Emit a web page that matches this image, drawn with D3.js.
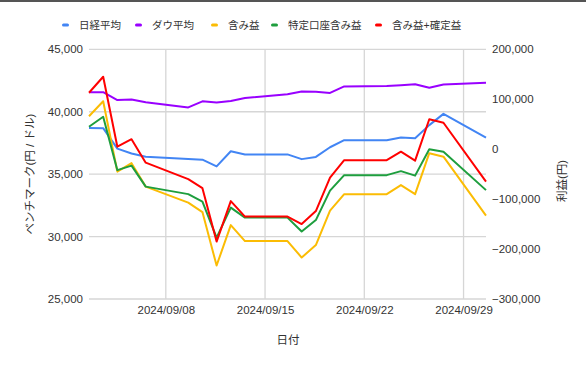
<!DOCTYPE html>
<html>
<head>
<meta charset="utf-8">
<title>ベンチマークと利益</title>
<script src="https://cdn.jsdelivr.net/npm/d3@7"></script>
<style>
  body { margin: 0; background: #fff; }
  svg text { font-family: "Liberation Sans", Arial, "Noto Sans CJK JP", sans-serif; fill: #333; }
</style>
</head>
<body>
<div id="chart"></div>
<script>

// 取得日時(平日 + 祝日)
var dates = ["2024-09-02", "2024-09-03", "2024-09-04", "2024-09-05", "2024-09-06",
             "2024-09-09", "2024-09-10", "2024-09-11", "2024-09-12", "2024-09-13",
             "2024-09-16", "2024-09-17", "2024-09-18", "2024-09-19", "2024-09-20",
             "2024-09-23", "2024-09-24", "2024-09-25", "2024-09-26", "2024-09-27",
             "2024-09-30"];

// 左軸
var nikkei = [38700, 38686, 37047, 36657, 36391, 36215, 36159, 35619, 36833, 36581,
              36581, 36203, 36380, 37155, 37723, 37723, 37940, 37870, 38926, 39830, 37919];
var dow = [41563, 41563, 40936, 40975, 40755, 40345, 40830, 40737, 40861, 41097,
           41394, 41622, 41606, 41504, 42025, 42063, 42124, 42208, 41915, 42175, 42313];

// 右軸
var unrealized = [66000, 96000, -45000, -28000, -75000, -107000, -126000, -233000, -152000, -184000,
                  -184000, -217000, -192000, -123000, -90000, -90000, -72000, -90000, -8000, -15000, -133000];
var tokutei = [45000, 65000, -42000, -33000, -75000, -90000, -105000, -177000, -117000, -137000,
               -137000, -165000, -142000, -83000, -52000, -52000, -44000, -53000, 0, -5000, -82000];
var totalProfit = [113000, 145000, 5000, 20000, -27000, -60000, -78000, -185000, -104000, -135000,
                   -135000, -150000, -124000, -57000, -22000, -22000, -5000, -23000, 60000, 53000, -65000];

var leftTicks = [25000, 30000, 35000, 40000, 45000];
var rightTicks = [-300000, -200000, -100000, 0, 100000, 200000];

var series = [
    { name: "日経平均", values: nikkei, axis: "left", color: "#4285f4" },
    { name: "ダウ平均", values: dow, axis: "left", color: "#9900ff" },
    { name: "含み益", values: unrealized, axis: "right", color: "#fbbc04" },
    { name: "特定口座含み益", values: tokutei, axis: "right", color: "#1e9e3e" },
    { name: "含み益+確定益", values: totalProfit, axis: "right", color: "#ff0000" }
];

var width = 586, height = 367;
var plotLeft = 89, plotRight = 486, plotTop = 49.3, plotBottom = 299;

var parseTime = d3.timeParse("%Y-%m-%d %H:%M");
var times = dates.map(function(d) { return parseTime(d + " 14:00"); });

var svg = d3.select("#chart").append("svg")
    .attr("width", width)
    .attr("height", height);

svg.append("rect").attr("width", width).attr("height", height).attr("fill", "#fff");
// 上端の枠
svg.append("rect").attr("x", 0).attr("y", 0).attr("width", width).attr("height", 2).attr("fill", "#555");

var x = d3.scaleTime().domain(d3.extent(times)).range([plotLeft, plotRight]);
var yLeft = d3.scaleLinear().domain([25000, 45000]).range([plotBottom, plotTop]);
var yRight = d3.scaleLinear().domain([-300000, 200000]).range([plotBottom, plotTop]);

// グリッド
var grid = svg.append("g").attr("stroke", "#d6d6d6").attr("stroke-width", 1.3);
grid.selectAll(".h").data(leftTicks).enter().append("line")
    .attr("x1", plotLeft).attr("x2", plotRight)
    .attr("y1", function(d) { return yLeft(d); })
    .attr("y2", function(d) { return yLeft(d); });
var xTicks = d3.timeWeek.range(x.domain()[0], x.domain()[1]);
grid.selectAll(".v").data(xTicks).enter().append("line")
    .attr("y1", plotTop).attr("y2", plotBottom)
    .attr("x1", function(d) { return x(d); })
    .attr("x2", function(d) { return x(d); });

// 軸
var fmt = d3.format(",");
var axisLeft = svg.append("g").attr("transform", "translate(" + (plotLeft - 6) + ",0)")
    .call(d3.axisLeft(yLeft).tickValues(leftTicks).tickFormat(fmt).tickSize(0).tickPadding(0));
var axisRight = svg.append("g").attr("transform", "translate(" + (plotRight + 6) + ",0)")
    .call(d3.axisRight(yRight).tickValues(rightTicks).tickFormat(fmt).tickSize(0).tickPadding(0));
var axisBottom = svg.append("g").attr("transform", "translate(0," + (plotBottom + 5) + ")")
    .call(d3.axisBottom(x).tickValues(xTicks).tickFormat(d3.timeFormat("%Y/%m/%d")).tickSize(0).tickPadding(0));

[axisLeft, axisRight, axisBottom].forEach(function(a) {
    a.select(".domain").remove();
    a.selectAll("text").attr("font-size", "11.5px").attr("fill", "#333");
});
axisBottom.selectAll("text").attr("dy", "0.9em");

// 軸タイトル
svg.append("text")
    .attr("transform", "translate(30," + ((plotTop + plotBottom) / 2) + ") rotate(-90)")
    .attr("text-anchor", "middle").attr("dy", "0.35em")
    .attr("font-size", "11.5px")
    .text("ベンチマーク(円 / ドル)");
svg.append("text")
    .attr("transform", "translate(562,181) rotate(-90)")
    .attr("text-anchor", "middle").attr("dy", "0.35em")
    .attr("font-size", "11.5px")
    .text("利益(円)");
svg.append("text")
    .attr("x", 288).attr("y", 340)
    .attr("text-anchor", "middle").attr("dy", "0.35em")
    .attr("font-size", "11.5px")
    .text("日付");

// 折れ線
series.forEach(function(s) {
    var y = s.axis === "left" ? yLeft : yRight;
    var line = d3.line()
        .x(function(d, i) { return x(times[i]); })
        .y(function(d) { return y(d); });
    svg.append("path")
        .datum(s.values)
        .attr("fill", "none")
        .attr("stroke", s.color)
        .attr("stroke-width", 2)
        .attr("stroke-linejoin", "round")
        .attr("d", line);
});

// 凡例
var legendX = [62, 135, 211, 271, 375];
var legend = svg.append("g");
series.forEach(function(s, i) {
    var g = legend.append("g").attr("transform", "translate(" + legendX[i] + ",25)");
    g.append("rect").attr("x", 0).attr("y", -1.5).attr("width", 7).attr("height", 3)
        .attr("rx", 1.5).attr("fill", s.color);
    g.append("text").attr("x", 17).attr("dy", "0.35em")
        .attr("font-size", "10.5px").text(s.name);
});

</script>
</body>
</html>
